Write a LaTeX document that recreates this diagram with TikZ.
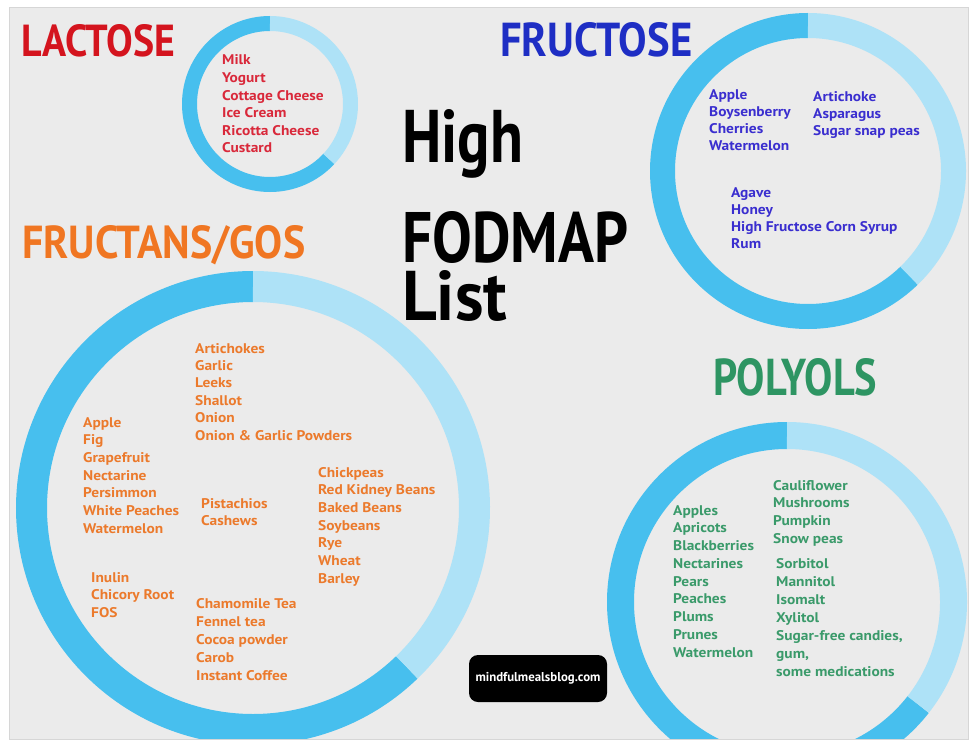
\documentclass[tikz,border=0pt]{standalone}
\usepackage{fontspec}
\setmainfont{PT Sans}
\newfontfamily\itemfont{PT Sans}[FakeStretch=1.1]
\usepackage{graphicx}
\definecolor{bg}{HTML}{EBEBEB}
\definecolor{frameline}{HTML}{D6D6D6}
\definecolor{ringdark}{HTML}{47BFEE}
\definecolor{ringlight}{HTML}{AEE2F7}
\definecolor{lacred}{HTML}{D4141E}
\definecolor{lacitem}{HTML}{D9283A}
\definecolor{frublue}{HTML}{1E2EC4}
\definecolor{fruitem}{HTML}{3A2ECF}
\definecolor{fanorange}{HTML}{F07622}
\definecolor{fanitem}{HTML}{EB7A2C}
\definecolor{polgreen}{HTML}{2E9563}
\definecolor{politem}{HTML}{3A9A6A}
\tikzset{
  item/.style={inner sep=0pt, anchor=base west, font=\itemfont\fontsize{14}{17}\selectfont\bfseries},
  bigtext/.style={inner sep=0pt, anchor=base west, font=\bfseries},
  ringpart/.style={line width=#1, line cap=butt},
}
\begin{document}
\begin{tikzpicture}[x=1pt,y=-1pt]
\useasboundingbox (0,0) rectangle (979,746);
\fill[white] (0,0) rectangle (979,746);
\fill[bg] (9,7) rectangle (968,739);
\begin{scope}
\clip (9,7) rectangle (968,739);
% lactose ring
\coordinate (lacC) at (270,104);
\draw[ringdark, ringpart=15pt] (lacC) ++(-90:80.5) arc[start angle=-90, end angle=-317, radius=80.5];
\draw[ringlight, ringpart=15pt] (lacC) ++(43:80.5) arc[start angle=43, end angle=-90, radius=80.5];
% fructose ring
\coordinate (fruC) at (808,171);
\draw[ringdark, ringpart=25pt] (fruC) ++(-90:145.5) arc[start angle=-90, end angle=-314, radius=145.5];
\draw[ringlight, ringpart=25pt] (fruC) ++(46:145.5) arc[start angle=46, end angle=-90, radius=145.5];
% fructans ring
\coordinate (fanC) at (253,508);
\draw[ringdark, ringpart=31pt] (fanC) ++(-90:221.5) arc[start angle=-90, end angle=-314, radius=221.5];
\draw[ringlight, ringpart=31pt] (fanC) ++(46:221.5) arc[start angle=46, end angle=-90, radius=221.5];
% polyols ring
\coordinate (polC) at (787,602);
\draw[ringdark, ringpart=27pt] (polC) ++(-90:166.5) arc[start angle=-90, end angle=-322, radius=166.5];
\draw[ringlight, ringpart=27pt] (polC) ++(38:166.5) arc[start angle=38, end angle=-90, radius=166.5];
\end{scope}
\draw[frameline, line width=0.8pt] (9,7) rectangle (968,739);

% titles
\node[bigtext, text=lacred] (lactose) at (21,57) {\resizebox{154pt}{32pt}{LACTOSE}};
\node[bigtext, text=frublue] (fructose) at (500,57) {\resizebox{192pt}{34pt}{FRUCTOSE}};
\node[bigtext, text=fanorange] (fructans) at (22,258) {\resizebox{283pt}{33pt}{FRUCTANS/GOS}};
\node[bigtext, text=polgreen] (polyols) at (713,395) {\resizebox{164pt}{37pt}{POLYOLS}};
\node[bigtext, text=black] (high) at (402,163) {\resizebox{121pt}{53pt}{High}};
\node[bigtext, text=black] (fodmap) at (402,262) {\resizebox{226pt}{51pt}{FODMAP}};
\node[bigtext, text=black] (list) at (402,320) {\resizebox{105pt}{50pt}{List}};

% lactose items
\foreach \t [count=\i] in {Milk,Yogurt,Cottage Cheese,Ice Cream,Ricotta Cheese,Custard}
  \node[item, text=lacitem] (lac\i) at (222,{65+17.6*(\i-1)}) {\t};
% fructose items
\foreach \t [count=\i] in {Apple,Boysenberry,Cherries,Watermelon}
  \node[item, text=fruitem] (fruA\i) at (709,{100+17*(\i-1)}) {\t};
\foreach \t [count=\i] in {Artichoke,Asparagus,Sugar snap peas}
  \node[item, text=fruitem] (fruB\i) at (813,{102+17*(\i-1)}) {\t};
\foreach \t [count=\i] in {Agave,Honey,High Fructose Corn Syrup,Rum}
  \node[item, text=fruitem] (fruC\i) at (731,{197+17*(\i-1)}) {\t};
% fructans items
\foreach \t [count=\i] in {Artichokes,Garlic,Leeks,Shallot,Onion,Onion \& Garlic Powders}
  \node[item, text=fanitem] (fanA\i) at (195,{353+17.4*(\i-1)}) {\t};
\foreach \t [count=\i] in {Apple,Fig,Grapefruit,Nectarine,Persimmon,White Peaches,Watermelon}
  \node[item, text=fanitem] (fanB\i) at (83,{427+17.7*(\i-1)}) {\t};
\foreach \t [count=\i] in {Pistachios,Cashews}
  \node[item, text=fanitem] (fanC\i) at (201,{508+17.5*(\i-1)}) {\t};
\foreach \t [count=\i] in {Chickpeas,Red Kidney Beans,Baked Beans,Soybeans,Rye,Wheat,Barley}
  \node[item, text=fanitem] (fanD\i) at (318,{477+17.7*(\i-1)}) {\t};
\foreach \t [count=\i] in {Inulin,Chicory Root,FOS}
  \node[item, text=fanitem] (fanE\i) at (91,{582+17.5*(\i-1)}) {\t};
\foreach \t [count=\i] in {Chamomile Tea,Fennel tea,Cocoa powder,Carob,Instant Coffee}
  \node[item, text=fanitem] (fanF\i) at (196,{608+18*(\i-1)}) {\t};
% polyols items
\foreach \t [count=\i] in {Apples,Apricots,Blackberries,Nectarines,Pears,Peaches,Plums,Prunes,Watermelon}
  \node[item, text=politem] (polA\i) at (673,{515+17.75*(\i-1)}) {\t};
\foreach \t [count=\i] in {Cauliflower,Mushrooms,Pumpkin,Snow peas}
  \node[item, text=politem] (polB\i) at (773,{490+17.7*(\i-1)}) {\t};
\foreach \t [count=\i] in {Sorbitol,Mannitol,Isomalt,Xylitol,{Sugar-free candies,},{gum,},some medications}
  \node[item, text=politem] (polC\i) at (776,{568+18*(\i-1)}) {\t};

% watermark
\node[fill=black, rounded corners=9pt, minimum width=138pt, minimum height=47pt, inner sep=0pt] (wm) at (538,678.5)
  {\resizebox{125pt}{!}{\color{white}\bfseries mindfulmealsblog.com}};
\end{tikzpicture}
\end{document}
